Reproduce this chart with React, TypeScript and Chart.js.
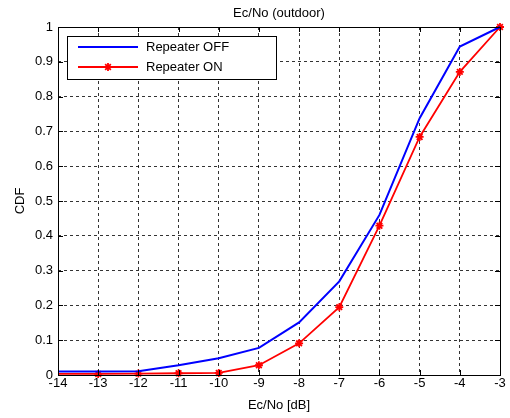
import React, { useEffect, useRef } from "react";
import { Chart, registerables } from "chart.js";

Chart.register(...registerables);

const xValues = [-14, -13, -12, -11, -10, -9, -8, -7, -6, -5, -4, -3];
const repeaterOff = [0.01, 0.01, 0.011, 0.028, 0.048, 0.078, 0.151, 0.269, 0.46, 0.738, 0.944, 1.0];
const repeaterOn = [0.003, 0.003, 0.004, 0.005, 0.006, 0.028, 0.091, 0.195, 0.429, 0.684, 0.871, 1.0];
const yTickLabels = ["0", "0.1", "0.2", "0.3", "0.4", "0.5", "0.6", "0.7", "0.8", "0.9", "1"];
const seriesNames = ["Repeater OFF", "Repeater ON"];
const titleText = "Ec/No (outdoor)";
const xAxisTitle = "Ec/No [dB]";
const yAxisTitle = "CDF";

const FONT = "'Liberation Sans', Arial, Helvetica, sans-serif";

const framePlugin = {
  id: "frame",
  afterDraw(chart: any) {
    const ctx = chart.ctx as CanvasRenderingContext2D;
    const { left, right, top, bottom } = chart.chartArea;
    const xs = chart.scales.x;
    const ys = chart.scales.y;
    ctx.save();
    ctx.strokeStyle = "#000";
    ctx.lineWidth = 1;
    ctx.setLineDash([]);
    ctx.strokeRect(Math.round(left) + 0.5, Math.round(top) + 0.5, Math.round(right - left), Math.round(bottom - top));
    const tl = 5;
    ctx.beginPath();
    xs.ticks.forEach((t: any) => {
      const px = Math.round(xs.getPixelForValue(t.value)) + 0.5;
      ctx.moveTo(px, bottom);
      ctx.lineTo(px, bottom - tl);
      ctx.moveTo(px, top);
      ctx.lineTo(px, top + tl);
    });
    ys.ticks.forEach((t: any) => {
      const py = Math.round(ys.getPixelForValue(t.value)) + 0.5;
      ctx.moveTo(left, py);
      ctx.lineTo(left + tl, py);
      ctx.moveTo(right, py);
      ctx.lineTo(right - tl, py);
    });
    ctx.stroke();

    // titles
    ctx.fillStyle = "#000";
    ctx.font = `13px ${FONT}`;
    ctx.textAlign = "center";
    ctx.textBaseline = "middle";
    ctx.fillText(titleText, (left + right) / 2, 13);
    ctx.fillText(xAxisTitle, (left + right) / 2, 405);
    ctx.save();
    ctx.translate(20, (top + bottom) / 2);
    ctx.rotate(-Math.PI / 2);
    ctx.fillText(yAxisTitle, 0, 0);
    ctx.restore();

    // legend
    const lx = 67.5, ly = 36.5, lw = 209, lh = 43;
    ctx.fillStyle = "#fff";
    ctx.fillRect(lx, ly, lw, lh);
    ctx.strokeStyle = "#000";
    ctx.strokeRect(lx, ly, lw, lh);
    const rows = [
      { y: 47, color: "#0000ff", marker: false },
      { y: 67, color: "#ff0000", marker: true },
    ];
    rows.forEach((r, i) => {
      ctx.strokeStyle = r.color;
      ctx.lineWidth = 2;
      ctx.beginPath();
      ctx.moveTo(78, r.y);
      ctx.lineTo(138, r.y);
      ctx.stroke();
      if (r.marker) {
        ctx.lineWidth = 1.8;
        ctx.beginPath();
        const rad = 4;
        for (let k = 0; k < 4; k++) {
          const a = (k * Math.PI) / 4;
          ctx.moveTo(108 - rad * Math.cos(a), r.y - rad * Math.sin(a));
          ctx.lineTo(108 + rad * Math.cos(a), r.y + rad * Math.sin(a));
        }
        ctx.stroke();
      }
      ctx.fillStyle = "#000";
      ctx.textAlign = "left";
      ctx.fillText(seriesNames[i], 146, r.y);
    });
    ctx.restore();
  },
};

export default function App() {
  const ref = useRef<HTMLCanvasElement | null>(null);
  useEffect(() => {
    const prevMargin = document.body.style.margin;
    document.body.style.margin = "0";
    const canvas = ref.current!;
    const chart = new Chart(canvas, {
      type: "line",
      data: {
        datasets: [
          {
            label: seriesNames[0],
            data: xValues.map((x, i) => ({ x, y: repeaterOff[i] })),
            borderColor: "#0000ff",
            backgroundColor: "#0000ff",
            borderWidth: 2,
            pointRadius: 0,
            tension: 0,
            clip: false as any,
          },
          {
            label: seriesNames[1],
            data: xValues.map((x, i) => ({ x, y: repeaterOn[i] })),
            borderColor: "#ff0000",
            backgroundColor: "#ff0000",
            borderWidth: 1.8,
            pointStyle: "star",
            pointRadius: (c: any) => (c.dataIndex === 0 ? 0 : 4),
            pointBorderWidth: 1.8,
            pointBorderColor: "#ff0000",
            tension: 0,
            clip: false as any,
          },
        ],
      },
      options: {
        animation: false,
        responsive: false,
        devicePixelRatio: 1,
        layout: { padding: { left: 0, top: 27, right: 10, bottom: 0 } },
        plugins: {
          legend: { display: false },
          title: { display: false },
          tooltip: { enabled: false },
        },
        scales: {
          x: {
            type: "linear",
            min: -14,
            max: -3,
            afterFit: (s: any) => {
              s.height = 43;
            },
            ticks: {
              stepSize: 1,
              color: "#000",
              font: { family: FONT, size: 13 },
              padding: 1,
              maxRotation: 0,
              autoSkip: false,
            },
            grid: { color: "rgba(0,0,0,0.8)", drawTicks: false, lineWidth: 1 },
            border: { display: false, dash: [3, 3] },
          },
          y: {
            type: "linear",
            min: 0,
            max: 1,
            afterFit: (s: any) => {
              s.width = 58;
            },
            ticks: {
              stepSize: 0.1,
              color: "#000",
              font: { family: FONT, size: 13 },
              padding: 5,
              autoSkip: false,
              callback: (_v: any, i: number) => yTickLabels[i],
            },
            grid: { color: "rgba(0,0,0,0.8)", drawTicks: false, lineWidth: 1 },
            border: { display: false, dash: [3, 3] },
          },
        },
      },
      plugins: [framePlugin],
    });
    return () => {
      chart.destroy();
      document.body.style.margin = prevMargin;
    };
  }, []);
  return (
    <div style={{ position: "absolute", left: 0, top: 0, width: 510, height: 418, background: "#fff" }}>
      <canvas ref={ref} width={510} height={418} style={{ width: 510, height: 418 }} />
    </div>
  );
}
